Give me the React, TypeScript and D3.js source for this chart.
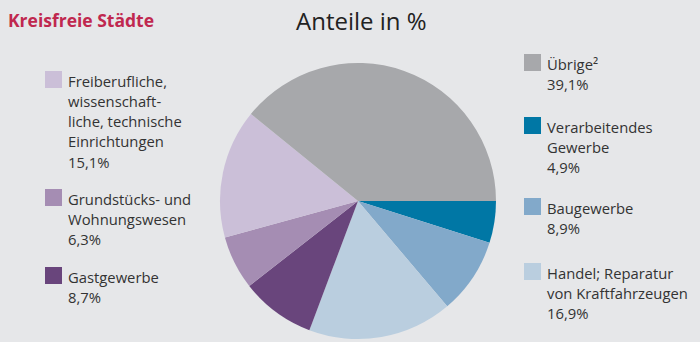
import React from "react";
import * as d3 from "d3";

const categories = [
  "Verarbeitendes Gewerbe",
  "Baugewerbe",
  "Handel; Reparatur von Kraftfahrzeugen",
  "Gastgewerbe",
  "Grundstücks- und Wohnungswesen",
  "Freiberufliche, wissenschaftliche, technische Einrichtungen",
  "Übrige²",
];
const values = [4.9, 8.9, 16.9, 8.7, 6.3, 15.1, 39.1];
const colors = ["#0077a5", "#82a9ca", "#bacedf", "#69457c", "#a58db3", "#cbbfd8", "#a7a8ab"];
const valueLabels = ["4,9%", "8,9%", "16,9%", "8,7%", "6,3%", "15,1%", "39,1%"];
const legendLines = [
  ["Verarbeitendes", "Gewerbe"],
  ["Baugewerbe"],
  ["Handel; Reparatur", "von Kraftfahrzeugen"],
  ["Gastgewerbe"],
  ["Grundstücks- und", "Wohnungswesen"],
  ["Freiberufliche,", "wissenschaft-", "liche, technische", "Einrichtungen"],
  ["Übrige²"],
];
// legend placement: side and top of swatch
const legendSide = ["right", "right", "right", "left", "left", "left", "right"];
const legendTop = [117, 198, 263, 267, 189, 71, 54];

export default function App() {
  const W = 700, H = 342;
  const cx = 358, cy = 201, r = 138;
  const pie = d3
    .pie<number>()
    .sort(null)
    .value((d) => d)
    .startAngle(Math.PI / 2)
    .endAngle(Math.PI / 2 + 2 * Math.PI);
  const arcs = pie(values);
  const arcGen = d3.arc<d3.PieArcDatum<number>>().innerRadius(0).outerRadius(r);
  const font = "'Open Sans', sans-serif";
  const lh = 20.3;
  return (
    <svg width={W} height={H} style={{ position: "absolute", left: 0, top: 0, background: "#e6e7e9" }} fontFamily={font}>
      <rect width={W} height={H} fill="#e6e7e9" />
      <text x={8} y={26.5} fontSize={17.5} fontWeight={700} fill="#c0284f">Kreisfreie Städte</text>
      <text x={296} y={30} fontSize={24} fill="#222">Anteile in %</text>
      <g transform={`translate(${cx},${cy})`}>
        {arcs.map((a, i) => (
          <path key={i} d={arcGen(a) || ""} fill={colors[i]} />
        ))}
      </g>
      {categories.map((c, i) => {
        const sx = legendSide[i] === "left" ? 45 : 524;
        const tx = sx + 23;
        const top = legendTop[i];
        const lines = [...legendLines[i], valueLabels[i]];
        return (
          <g key={c}>
            <rect x={sx} y={top} width={17} height={17} fill={colors[i]} />
            <text fontSize={14.8} fill="#333">
              {lines.map((l, j) => (
                <tspan key={j} x={tx} y={top + 15.5 + j * lh}>{l}</tspan>
              ))}
            </text>
          </g>
        );
      })}
    </svg>
  );
}
